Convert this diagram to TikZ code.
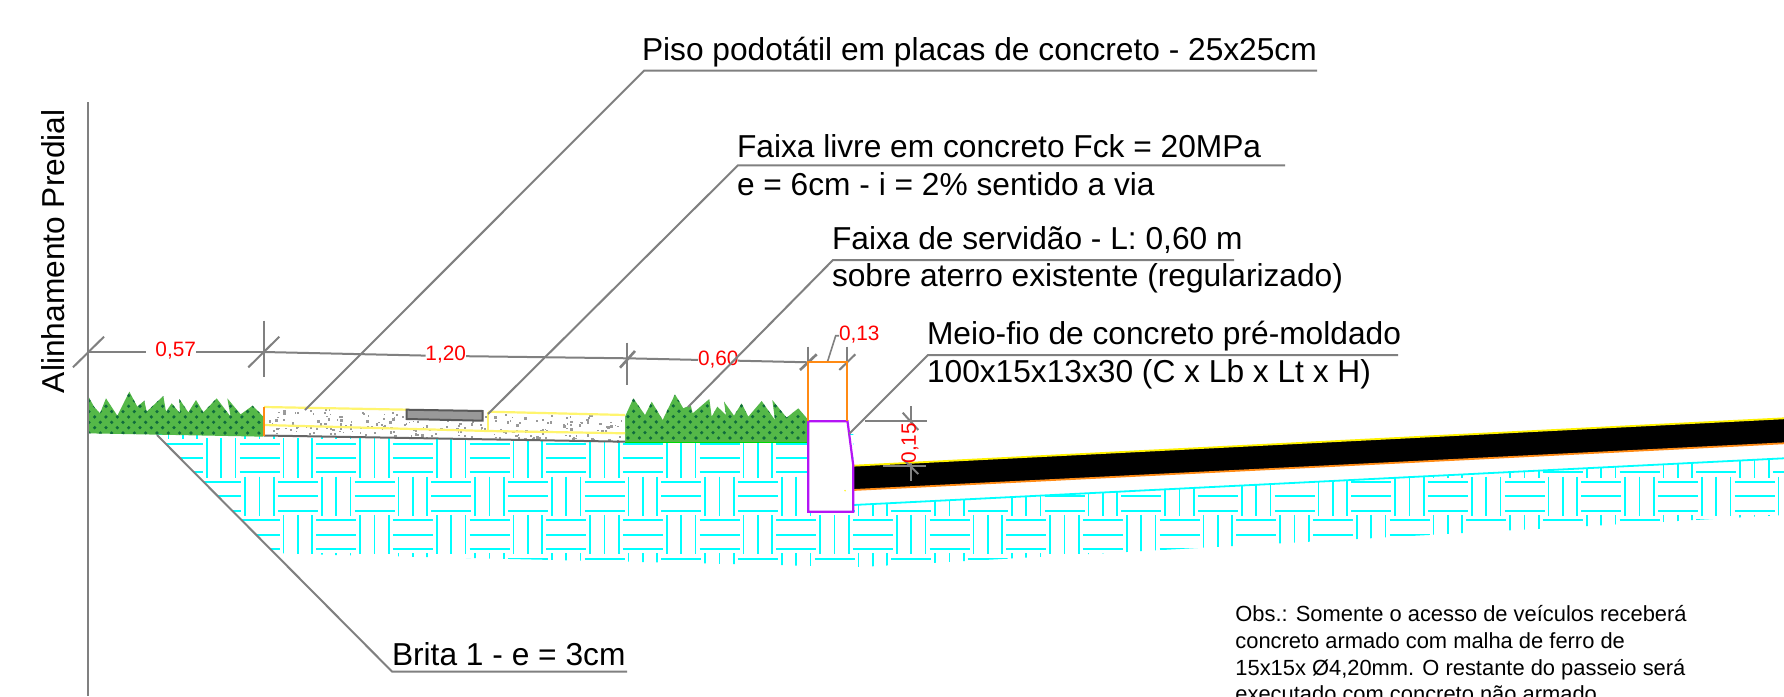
\documentclass[tikz,border=0pt]{standalone}
\usepackage{fontspec}
\setmainfont{Liberation Sans}
\definecolor{grassg}{HTML}{54B848}
\definecolor{grassd}{HTML}{0F6B3C}
\definecolor{hatchc}{HTML}{00FFFF}
\definecolor{dimg}{HTML}{808080}
\definecolor{curbo}{HTML}{FF8A14}
\definecolor{curbp}{HTML}{B414F5}
\definecolor{yel}{HTML}{FFF56E}
\tikzset{
  lbl/.style={anchor=base west,inner sep=0pt,outer sep=0pt,text=black,font=\fontsize{31.7}{34}\selectfont},
  dimtxt/.style={inner sep=0pt,outer sep=0pt,text=red,font=\fontsize{20.8}{23}\selectfont},
  obs/.style={anchor=base west,inner sep=0pt,outer sep=0pt,text=black,font=\fontsize{21.9}{24}\selectfont},
  leader/.style={draw=dimg,line width=2pt,line join=miter},
  dimline/.style={draw=dimg,line width=2pt},
  hatchln/.style={draw=hatchc,line width=1.7pt},
  grassfill/.style={fill=grassg,draw=none},
}
\newcommand{\grassdots}[2]{%
  \foreach \rr in {0,...,14}{%
    \foreach \cc in {0,...,50}{%
      \ifodd\rr\relax
        \fill[grassd] ({#1+\cc*11.33+5.66},{#2-\rr*5.35}) circle (1.8);
      \else
        \fill[grassd] ({#1+\cc*11.33},{#2-\rr*5.35}) circle (1.8);
      \fi
    }%
  }%
}
\begin{document}
\begin{tikzpicture}[x=1pt,y=-1pt]
\useasboundingbox (0,0) rectangle (1784,696);
\fill[white] (0,0) rectangle (1784,696);
% ---- hatching
\begin{scope}
\clip (157,434) -- (275,553) -- (335,555) -- (860,567) -- (1784,515) -- (1784,458.3) -- (853.3,505) -- (853.3,434) -- cycle;
\foreach \i in {-3,...,41}{
  \foreach \j in {-1,...,3}{
    \pgfmathsetmacro\xa{239.5+\i*38.333}
    \pgfmathsetmacro\yc{458+\j*38.333}
    \ifodd\numexpr\i+\j+100\relax
      \foreach \d in {-14.33,0,14.33}{
        \draw[hatchln] ({\xa+20+\d},{\yc-19.7}) -- ({\xa+20+\d},{\yc+19.7});
      }
    \else
      \foreach \d in {-14.33,0,14.33}{
        \draw[hatchln] ({\xa},{\yc+\d}) -- ({\xa+40},{\yc+\d});
      }
    \fi
  }
}
\end{scope}
\draw[hatchln,line width=1.8pt] (853.3,505) -- (1784,458.3);
% ---- grass left
\def\grassA{[shift={(80,385)},x=0.3333pt,y=-0.3333pt]
 (24,32)--(42,65)--(60,85)--(78,40)--(112,92)--(148,20)--(172,65)--(193,47)--(200,80)--(250,33)--(258,80)--(275,55)--(300,85)--(298,42)--(325,82)--(348,45)--(370,82)--(410,40)--(452,95)--(442,40)--(482,88)--(518,62)--(550,95)--(550,155)--(24,145)--cycle}
\fill[grassfill] \grassA;
\begin{scope}
\clip \grassA;
\grassdots{89}{433}
\end{scope}
% ---- grass right
\def\grassB{[shift={(620,385)},x=0.3333pt,y=-0.3333pt]
 (15,95)--(40,40)--(75,90)--(95,50)--(128,105)--(165,28)--(190,70)--(212,60)--(218,85)--(268,42)--(275,95)--(292,65)--(318,90)--(312,50)--(342,92)--(365,55)--(385,95)--(425,48)--(465,105)--(457,45)--(500,98)--(535,70)--(565,105)--(565,172)--(15,172)--cycle}
\fill[grassfill] \grassB;
\begin{scope}
\clip \grassB;
\grassdots{628}{438}
\end{scope}
\draw[green!85!black,line width=1.5pt] (625,442.5) -- (808,442.5);
% ---- concrete
\fill[white] (264,407) -- (625,415) -- (625,441.7) -- (264,435) -- cycle;
\pgfmathsetseed{4242}
\foreach \n in {1,...,230}{
  \pgfmathsetmacro\px{268+rnd*354}
  \pgfmathsetmacro\py{pow(rnd,0.75)}
  \pgfmathsetmacro\sz{0.6+rnd*0.7}
  \pgfmathsetmacro\yy{408.5+(\px-264)*0.022+\py*25.5}
  \fill[dimg!80!white] ({\px-\sz},{\yy-\sz}) rectangle ({\px+\sz},{\yy+\sz});
}
\draw[yel,line width=2.2pt] (264,407) -- (408.3,409.7);
\draw[yel,line width=2.2pt] (488.3,411.7) -- (625,415);
\draw[yel,line width=2.2pt] (264,425) -- (488,431) -- (625,433.3);
\draw[yel,line width=2.2pt] (487.7,411.7) -- (487.7,432);
\draw[gray!80!black,line width=2pt] (264,435.5) -- (625,441.7);
\draw[curbo,line width=2pt] (264,406.5) -- (264,436);
\filldraw[fill=black!40,draw=black!65,line width=2pt] (406.7,409.7) -- (482.7,411) -- (482.7,420.7) -- (406.7,419) -- cycle;
% ---- road
\fill[black] (853.3,465.7) -- (1784,418.3) -- (1784,443.3) -- (853.3,490) -- cycle;
\draw[yellow,line width=1.8pt] (853.3,465.7) -- (1784,418.3);
\draw[curbo,line width=1.8pt] (853.3,490) -- (1784,443.3);
% ---- curb
\filldraw[fill=white,draw=curbp,line width=2.2pt,line join=miter] (808.3,421.3) -- (847.5,421.3) -- (849.3,435) -- (853.3,465.7) -- (853.3,511.7) -- (808.3,511.7) -- cycle;
\fill[yellow] (845,490.7) circle (0.8);
% ---- alignment line
\draw[dimline] (88.4,102) -- (88.4,696);
% ---- named points
\coordinate (A) at (88.4,352);
\coordinate (B) at (264,352);
\coordinate (C) at (627.3,358.3);
\coordinate (D) at (808.3,362.3);
\coordinate (E) at (847.3,362.3);
% ---- dimensions
\node[dimtxt] (d057) at (175.7,351) {0,57};
\node[dimtxt] (d120) at (445.7,355) {1,20};
\node[dimtxt] (d060) at (718.3,359.3) {0,60};
\node[dimtxt] (d013) at (859.3,335) {0,13};
\draw[dimline] (A) -- (146,352) (196,352) -- (B);
\draw[dimline] (B) -- (425.7,355.6) (466,356.2) -- (C);
\draw[dimline] (C) -- (698,359.9) (737.7,360.7) -- (D);
\draw[dimline] (73,367.3) -- (104,336.7);
\draw[dimline] (248.3,367.3) -- (279.3,336.7);
\draw[dimline,line width=2.6pt] (264,320.7) -- (264,376.7);
\draw[dimline,line width=2.6pt] (620,367.7) -- (635,351);
\draw[dimline] (627.3,342.7) -- (627.3,385);
\draw[dimline,line width=2.6pt] (800,370) -- (816.7,354.3);
\draw[dimline] (808.3,346.7) -- (808.3,391.7);
\draw[dimline] (839.3,370) -- (855.3,354.3);
\draw[dimline] (847.3,346.7) -- (847.3,362.3);
\draw[dimline,line width=1.6pt] (827.3,362.3) -- (835.7,335.7) -- (839,335.7);
% ---- curb head, over the dimension ticks
\draw[curbo,line width=2.2pt] (808.3,421.3) -- (808.3,362.3) -- (847.3,362.3) -- (847.3,421.3);
% 0,15
\draw[dimline] (865,421.3) -- (926.7,421.3);
\draw[dimline] (883,465.7) -- (926,465.7);
\draw[dimline] (910.7,406) -- (910.7,423);
\draw[dimline] (910.7,463) -- (910.7,481);
\draw[dimline] (902.7,412.7) -- (918.3,430);
\draw[dimline] (903.3,459.3) -- (918.3,474);
\node[dimtxt,rotate=90] (d015) at (910,443.3) {0,15};
% ---- labels and leaders
\node[lbl] (piso) at (642,60.7) {Piso podotátil em placas de concreto - 25x25cm};
\coordinate (pisoEnd) at (305,410);
\coordinate (pisoKnee) at (644,70.7);
\coordinate (pisoR) at (1317,70.7);
\draw[leader] (pisoEnd) -- (pisoKnee) -- (pisoR);
\node[lbl] (livA) at (737,157) {Faixa livre em concreto Fck = 20MPa};
\node[lbl] (livB) at (737,195.3) {e = 6cm - i = 2\% sentido a via};
\coordinate (livEnd) at (488,414);
\coordinate (livKnee) at (738,165.3);
\coordinate (livR) at (1285,165.3);
\draw[leader] (livEnd) -- (livKnee) -- (livR);
\node[lbl] (serA) at (832,249) {Faixa de servidão - L: 0,60 m};
\node[lbl] (serB) at (832,286.7) {sobre aterro existente (regularizado)};
\coordinate (serEnd) at (688,407);
\coordinate (serKnee) at (833,260);
\coordinate (serR) at (1234,260);
\draw[leader] (serEnd) -- (serKnee) -- (serR);
\node[lbl] (meiA) at (927,344) {Meio-fio de concreto pré-moldado};
\node[lbl] (meiB) at (927,382.7) {100x15x13x30 (C x Lb x Lt x H)};
\coordinate (meiEnd) at (849,434);
\coordinate (meiKnee) at (928,355);
\coordinate (meiR) at (1398,355);
\draw[leader] (meiEnd) -- (meiKnee) -- (meiR);
\node[lbl] (bri) at (392,665) {Brita 1 - e = 3cm};
\coordinate (briEnd) at (157,435);
\coordinate (briKnee) at (392,671.5);
\coordinate (briR) at (627,671.5);
\draw[leader] (briEnd) -- (briKnee) -- (briR);
\node[lbl,rotate=90] (alin) at (64,393) {Alinhamento Predial};
\node[obs] (o1) at (1235.4,621.7) {Obs.: Somente o acesso de veículos receberá};
\node[obs] (o2) at (1235.4,648.3) {concreto armado com malha de ferro de};
\node[obs] (o3) at (1235.4,675) {15x15x Ø4,20mm. O restante do passeio será};
\node[obs] (o4) at (1235.4,701.7) {executado com concreto não armado.};
\end{tikzpicture}
\end{document}
